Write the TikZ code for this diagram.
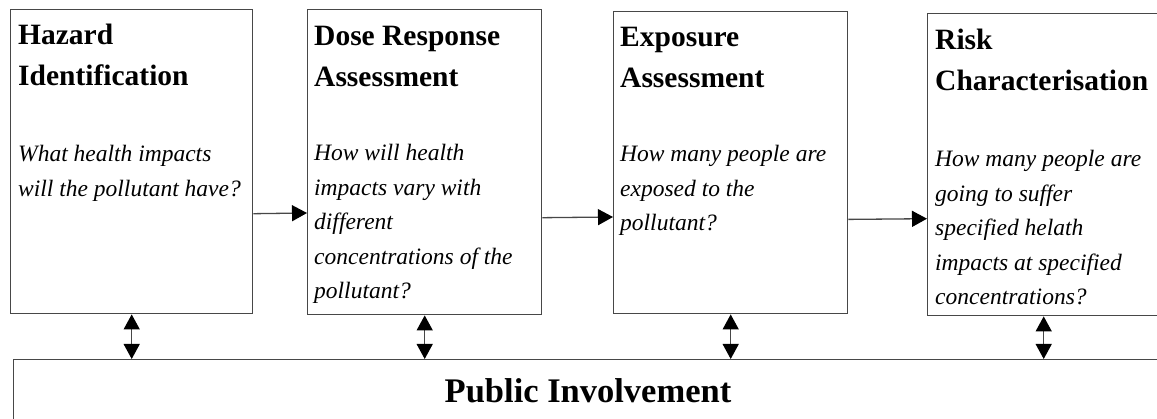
\documentclass[tikz,border=0pt]{standalone}
\usepackage{fontspec}
\setmainfont{Liberation Serif}
\usetikzlibrary{arrows.meta}

\begin{document}
\begin{tikzpicture}[x=1pt,y=-1pt,
  stage/.style={draw=black!72, line width=1.4pt, fill=white, rectangle, inner sep=0pt, anchor=north west},
  title/.style={inner sep=0pt, anchor=base west, font=\fontsize{29.5}{41}\selectfont\bfseries},
  question/.style={inner sep=0pt, anchor=base west, font=\fontsize{23.5}{34.5}\selectfont\itshape},
  flow/.style={draw=black!72, line width=1.3pt, -{Triangle[length=15pt,width=16pt,color=black]}},
  link/.style={draw=black!72, line width=1.3pt, {Triangle[length=15pt,width=16pt,color=black]}-{Triangle[length=15pt,width=16pt,color=black]}},
]
\useasboundingbox (0,0) rectangle (1157,419);
\clip (0,0) rectangle (1157,419);

% the four assessment stages
\node[stage, minimum width=242pt, minimum height=304pt] (b1) at (10,9) {};
\node[stage, minimum width=234pt, minimum height=305pt] (b2) at (307,9) {};
\node[stage, minimum width=234pt, minimum height=302pt] (b3) at (613,11) {};
\node[stage, minimum width=232pt, minimum height=302pt] (b4) at (927,13) {};

% public involvement bar along the bottom
\node[stage, minimum width=1160pt, minimum height=90pt] (pub) at (13,359) {};
\node[inner sep=0pt, anchor=base, font=\fontsize{34.5}{40}\selectfont\bfseries] (pubtext) at (588,403) {Public Involvement};

% stage titles
\node[title] (t1) at ([xshift=8pt,yshift=-36pt]b1.north west) {\parbox[t]{230pt}{Hazard\\Identification}};
\node[title] (t2) at ([xshift=7pt,yshift=-37pt]b2.north west) {\parbox[t]{230pt}{Dose Response\\Assessment}};
\node[title] (t3) at ([xshift=7pt,yshift=-36pt]b3.north west) {\parbox[t]{230pt}{Exposure\\Assessment}};
\node[title] (t4) at ([xshift=8pt,yshift=-37pt]b4.north west) {\parbox[t]{230pt}{Risk\\Characterisation}};

% stage questions
\node[question] (q1) at ([xshift=8pt,yshift=-153pt]b1.north west) {\parbox[t]{235pt}{What health impacts\\will the pollutant have?}};
\node[question] (q2) at ([xshift=7pt,yshift=-152pt]b2.north west) {\parbox[t]{235pt}{How will health\\impacts vary with\\different\\concentrations of the\\pollutant?}};
\node[question] (q3) at ([xshift=7pt,yshift=-151pt]b3.north west) {\parbox[t]{235pt}{How many people are\\exposed to the\\pollutant?}};
\node[question] (q4) at ([xshift=8pt,yshift=-154pt]b4.north west) {\parbox[t]{235pt}{How many people are\\going to suffer\\specified helath\\impacts at specified\\concentrations?}};

% flow from stage to stage
\draw[flow] ([yshift=-52pt]b1.east) -- (b2.west |- 0,213);
\draw[flow] ([yshift=-55.5pt]b2.east) -- (b3.west |- 0,217);
\draw[flow] ([yshift=-56.7pt]b3.east) -- (b4.west |- 0,218.7);

% two-way links with the public
\draw[link] (b1.south) -- (b1.south |- pub.north);
\draw[link] (b2.south) -- (b2.south |- pub.north);
\draw[link] (b3.south) -- (b3.south |- pub.north);
\draw[link] (b4.south) -- (b4.south |- pub.north);
\end{tikzpicture}
\end{document}
